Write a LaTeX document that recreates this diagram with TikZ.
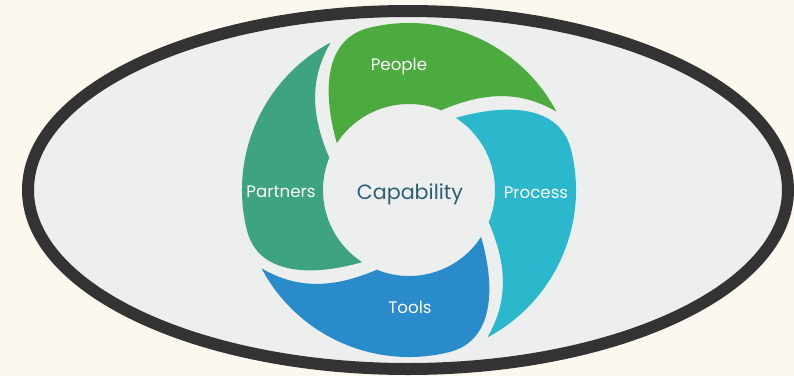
\documentclass[tikz,border=0pt]{standalone}
\usepackage{fontspec}
\setmainfont{Poppins}
\usepackage{tikz}

\definecolor{bgcream}{HTML}{FCF8EF}
\definecolor{ringfill}{HTML}{EDEFEE}
\definecolor{ringline}{HTML}{333333}
\definecolor{peoplegreen}{HTML}{4BAB3E}
\definecolor{processcyan}{HTML}{2BB8CD}
\definecolor{toolsblue}{HTML}{2A8BCB}
\definecolor{partnersteal}{HTML}{3DA47F}
\definecolor{capblue}{HTML}{2D5F74}

\begin{document}
\begin{tikzpicture}[x=0.75pt,y=0.75pt,
    blade label/.style={text=white,font=\fontsize{12.5}{14}\selectfont,anchor=base},
    center label/.style={text=capblue,font=\fontsize{15.5}{18}\selectfont,anchor=base}]

  % page and ring
  \fill[bgcream] (-409,-186) rectangle (385,190);
  \useasboundingbox (-409,-186) rectangle (385,190);
  \draw[ringline,fill=ringfill,line width=9pt] (-1,0) ellipse [x radius=380,y radius=179];

  % blades
  \fill[peoplegreen] (68:86) .. controls (52.4:124.1) and (41.8:149.1) .. (28:167)
    arc[start angle=28,end angle=104,radius=167]
    .. controls (119.1:172.9) and (131.2:132.5) .. (147:86)
    arc[start angle=147,end angle=68,radius=86] -- cycle;
  \fill[partnersteal,rotate=90] (68:86) .. controls (52.4:124.1) and (41.8:149.1) .. (28:167)
    arc[start angle=28,end angle=104,radius=167]
    .. controls (119.1:172.9) and (131.2:132.5) .. (147:86)
    arc[start angle=147,end angle=68,radius=86] -- cycle;
  \fill[toolsblue,rotate=180] (68:86) .. controls (52.4:124.1) and (41.8:149.1) .. (28:167)
    arc[start angle=28,end angle=104,radius=167]
    .. controls (119.1:172.9) and (131.2:132.5) .. (147:86)
    arc[start angle=147,end angle=68,radius=86] -- cycle;
  \fill[processcyan,rotate=270] (68:86) .. controls (52.4:124.1) and (41.8:149.1) .. (28:167)
    arc[start angle=28,end angle=104,radius=167]
    .. controls (119.1:172.9) and (131.2:132.5) .. (147:86)
    arc[start angle=147,end angle=68,radius=86] -- cycle;

  % labels
  \node[center label] (capability) at (1,-9) {Capability};
  \node[blade label] (people) at (-10,119.3) {People};
  \node[blade label] (partners) at (-128,-7.7) {Partners};
  \node[blade label] (process) at (127,-8) {Process};
  \node[blade label] (tools) at (1,-123) {Tools};
\end{tikzpicture}
\end{document}
